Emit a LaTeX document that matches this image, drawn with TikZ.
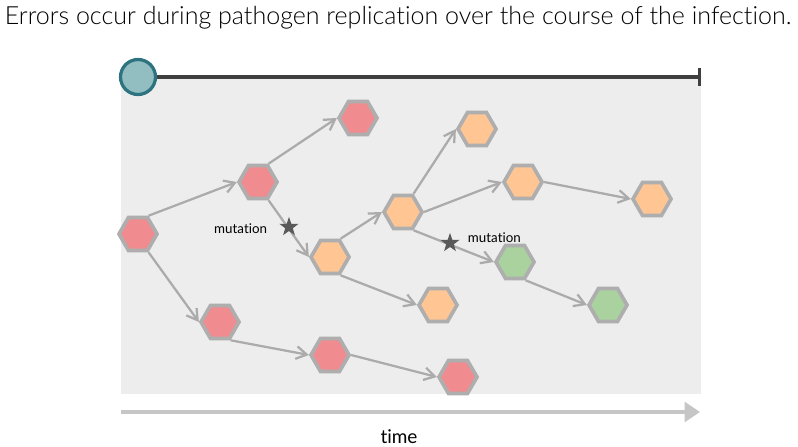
\documentclass[tikz,border=0pt]{standalone}
\usepackage{fontspec}
\setmainfont{Lato}[Ligatures=NoCommon]
\newfontfamily\titlefont{Lato Light}[Ligatures=NoCommon]
\usepackage{tikz}
\usetikzlibrary{shapes.geometric,arrows.meta}
\usepackage{xcolor}
\definecolor{hexred}{HTML}{F08C8F}
\definecolor{hexorange}{HTML}{FFC694}
\definecolor{hexgreen}{HTML}{A9D29E}
\definecolor{hexborder}{HTML}{AEAEAE}
\definecolor{edgegray}{HTML}{ABABAB}
\definecolor{panel}{HTML}{EDEDED}
\definecolor{hostfill}{HTML}{92BEC2}
\definecolor{hostdraw}{HTML}{2D7480}
\definecolor{axisgray}{HTML}{C6C6C6}
\definecolor{linedark}{HTML}{3F3F3F}
\definecolor{stargray}{HTML}{595959}
\tikzset{
	virus/.style={regular polygon, regular polygon sides=6, minimum size=0.95cm, inner sep=0pt, draw=hexborder, line width=2.6pt},
	spread/.style={draw=edgegray, line width=1.6pt, -{Straight Barb[length=7.5pt,width=9pt]}},
	mutstar/.style={star, star points=5, star point ratio=2.5, minimum size=0.5cm, inner sep=0pt, fill=stargray},
}

\begin{document}
\begin{tikzpicture}[x=0.025cm, y=-0.025cm]
		\useasboundingbox (0,0) rectangle (798,447);
		\node[font=\titlefont\fontsize{17.8}{20}\selectfont] (title) at (398,18) {Errors occur during pathogen replication over the course of the infection.};
		\filldraw[fill=panel, draw=none] (121,78) rectangle (701,394);
		\coordinate (tl) at (138,77);
		\coordinate (tr) at (701,77);
		\draw[linedark, line width=2.4pt, -{Bar[width=12.8pt]}] (tl) -- (tr);
		\node[circle, minimum size=0.875cm, inner sep=0pt, fill=hostfill, draw=hostdraw, line width=2.3pt] (host) at (tl) {};
		% red lineage
		\node[virus, fill=hexred] (A) at (138,234) {};
		\node[virus, fill=hexred] (B) at (258,182) {};
		\node[virus, fill=hexred] (C) at (358,118) {};
		\node[virus, fill=hexred] (D) at (220,322) {};
		\node[virus, fill=hexred] (E) at (330,355) {};
		\node[virus, fill=hexred] (F) at (458,377) {};
		% orange lineage
		\node[virus, fill=hexorange] (G) at (330,257) {};
		\node[virus, fill=hexorange] (H) at (403,212) {};
		\node[virus, fill=hexorange] (I) at (477,129) {};
		\node[virus, fill=hexorange] (J) at (523,182) {};
		\node[virus, fill=hexorange] (K) at (652,199) {};
		\node[virus, fill=hexorange] (L) at (438,305) {};
		% green lineage
		\node[virus, fill=hexgreen] (M) at (515,262) {};
		\node[virus, fill=hexgreen] (N) at (608,305) {};
		\draw[spread] (A.60) -- (B.180);
		\draw[spread] (B.60) -- (C.180);
		\draw[spread] (B.-60) -- (G.180);
		\draw[spread] (A.-60) -- (D.180);
		\draw[spread] (D.-60) -- (E.180);
		\draw[spread] (E.0) -- (F.180);
		\draw[spread] (G.60) -- (H.180);
		\draw[spread] (G.-60) -- (L.180);
		\draw[spread] (H.60) -- (I.180);
		\draw[spread] (H.0) -- (J.180);
		\draw[spread] (J.0) -- (K.180);
		\draw[spread] (H.-60) -- (M.180);
		\draw[spread] (M.-60) -- (N.180);
		\node[mutstar] (s1) at (289,227) {};
		\node[mutstar] (s2) at (450,243) {};
		\node[anchor=east, font=\fontsize{9.5}{11}\selectfont] (m1) at (272,229) {mutation};
		\node[anchor=west, font=\fontsize{9.5}{11}\selectfont] (m2) at (463,238) {mutation};
		% time axis
		\coordinate (t0) at (121,412);
		\coordinate (t1) at (700,412);
		\draw[axisgray, line width=3.5pt, -{Triangle[length=11pt,width=14pt]}] (t0) -- (t1);
		\node[font=\fontsize{13.5}{15}\selectfont] (time) at (399,437) {time};
	\end{tikzpicture}
\end{document}
